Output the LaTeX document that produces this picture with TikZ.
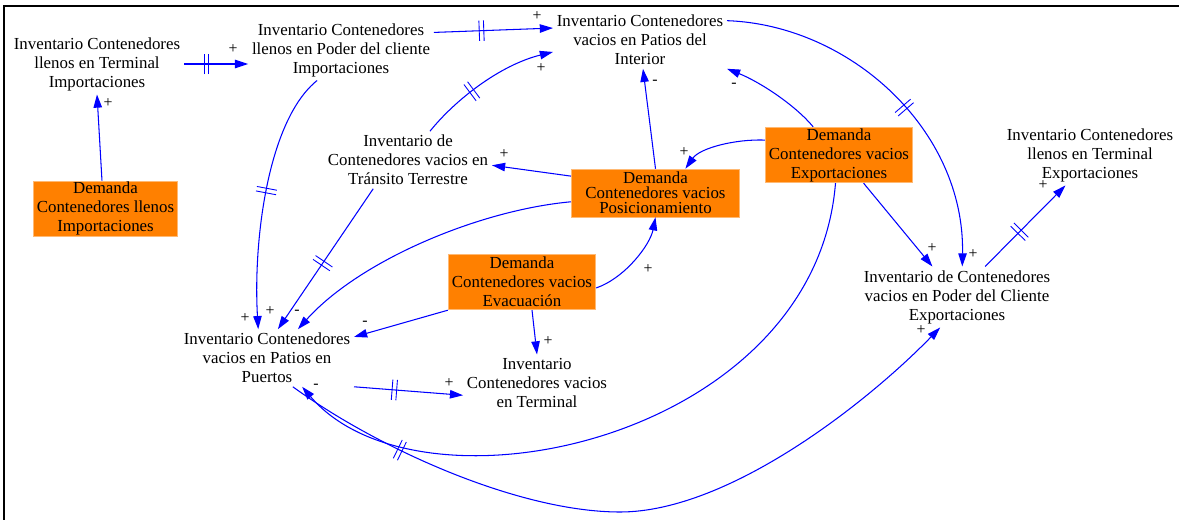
\documentclass[tikz,border=0pt]{standalone}
\usepackage{fontspec}
\setmainfont{Liberation Serif}
\usetikzlibrary{arrows.meta,decorations.markings}
\definecolor{demandorange}{RGB}{255,128,0}
\begin{document}
\begin{tikzpicture}[x=0.02cm,y=-0.02cm,
	var/.style={align=center,inner sep=2pt,font=\fontsize{9.6}{10.8}\selectfont},
	demand/.style={var,fill=demandorange,draw=demandorange!55,inner sep=0.5pt},
	link/.style={draw=blue,line width=0.6pt,-{Triangle[length=7.5pt,width=4.8pt]}},
	delay/.style={postaction={decorate,decoration={markings,
		mark=at position #1 with {\draw[blue,line width=0.5pt,-] (-1.3pt,-5.8pt) -- (-1.3pt,5.8pt) (1.3pt,-5.8pt) -- (1.3pt,5.8pt);}}}},
	sign/.style={inner sep=0pt,font=\fontsize{9}{9}\selectfont}]
			\useasboundingbox (0,0) rectangle (1179,520);
			%Frame
			\draw[line width=1.7pt] (4,520) -- (4,6) -- (1179,6);
			%Stocks
			\node [var] (tli) at (97,64) {Inventario Contenedores\\llenos en Terminal\\Importaciones};
			\node [var] (lpci) at (341,50) {Inventario Contenedores\\llenos en Poder del cliente\\Importaciones};
			\node [var] (vpi) at (640,40) {Inventario Contenedores\\vacios en Patios del\\Interior};
			\node [var] (vtt) at (408,160) {Inventario de\\Contenedores vacios en\\Tránsito Terrestre};
			\node [var] (tle) at (1090,155) {Inventario Contenedores\\llenos en Terminal\\Exportaciones};
			\node [var] (vpce) at (957,297) {Inventario de Contenedores\\vacios en Poder del Cliente\\Exportaciones};
			\node [var] (vpp) at (267,358) {Inventario Contenedores\\vacios en Patios en\\Puertos};
			\node [var] (vt) at (537,383) {Inventario\\Contenedores vacios\\en Terminal};
			%Demands
			\node [demand,minimum width=82pt,minimum height=31pt] (dli) at (105.5,208.5) {Demanda\\Contenedores llenos\\Importaciones};
			\node [demand,minimum width=95.8pt,minimum height=27.2pt,font=\fontsize{9.6}{8.5}\selectfont] (dpos) at (655.5,193) {Demanda\\Contenedores vacios\\Posicionamiento};
			\node [demand,minimum width=84pt,minimum height=31.7pt] (dexp) at (839,155) {Demanda\\Contenedores vacios\\Exportaciones};
			\node [demand,minimum width=84pt,minimum height=31.7pt] (dev) at (522,282) {Demanda\\Contenedores vacios\\Evacuación};
			%Bends of the long loops
			\coordinate (low) at (620,512);
			%Links at the top
			\draw [link] ([xshift=-2pt]dli.north) -- (tli.south);
			\draw [link,delay=0.35] (tli.east) -- (tli.east -| lpci.west);
			\draw [link,delay=0.4] ([yshift=10pt]lpci.east) -- ([yshift=6.8pt]vpi.west);
			\draw [link,delay=0.39] ([xshift=12.5pt]vtt.north) .. controls (455,100) and (500,65) .. ([yshift=-6.8pt]vpi.west);
			\draw [link] (dpos.north) -- ([xshift=1.7pt]vpi.south);
			\draw [link] ([xshift=-14.7pt]dexp.north) .. controls (795,105) and (760,82) .. (vpi.south east);
			\draw [link] ([yshift=8.5pt]dexp.west) .. controls (735,139) and (700,148) .. ([xshift=17pt]dpos.north);
			\draw [link] ([yshift=9.6pt]dpos.west) -- ([yshift=-3pt]vtt.east);
			%Links into the ports
			\draw [link,delay=0.47] ([xshift=-13.6pt]lpci.south) .. controls (268,120) and (253,240) .. ([xshift=-5pt]vpp.north);
			\draw [link,delay=0.53] ([xshift=-19.8pt]vtt.south) -- ([xshift=6.2pt]vpp.north);
			\draw [link] ([yshift=-5pt]dpos.west) .. controls (480,210) and (360,260) .. ([xshift=17.6pt]vpp.north);
			\draw [link] (dev.south west) -- ([yshift=12pt]vpp.east);
			\draw [link] ([yshift=-3.4pt]dev.east) .. controls (625,278) and (650,245) .. (dpos.south);
			\draw [link] ([xshift=5.7pt]dev.south) -- (vt.north);
			\draw [link,delay=0.37] (vpp.south east) -- ([yshift=-7pt]vt.west);
			%Links on the export side
			\draw [link] ([xshift=14pt]dexp.south) -- ([xshift=-14pt]vpce.north);
			\draw [link,delay=0.54] ([yshift=11pt]vpi.east) .. controls (850,25) and (965,130) .. ([xshift=3pt]vpce.north);
			\draw [link,delay=0.43] ([xshift=16pt]vpce.north) -- ([xshift=-14pt]tle.south);
			\draw [link] ([xshift=-2pt]dexp.south) .. controls (815,440) and (420,525) .. ([xshift=20pt]vpp.south);
			\draw [link,delay=0.17] ([xshift=14.7pt]vpp.south) .. controls (380,450) and (520,512) .. (low) .. controls (730,512) and (870,400) .. ([xshift=-9.6pt]vpce.south);
			%Polarities
			\foreach \x/\y/\s [count=\i] in {108/103/+,233/49/+,537/16/+,541/68/+,655/82/-,734/85/-,684/152/+,504/154/+,
				245/318/+,270/311/+,297/312/-,365/323/-,648/269/+,548/341/+,449/383/+,316/386/-,
				932/248/+,973/254/+,1043/185/+,921/330/+} {
				\node [sign] (sgn\i) at (\x,\y) {\s};
			}
\end{tikzpicture}
\end{document}
